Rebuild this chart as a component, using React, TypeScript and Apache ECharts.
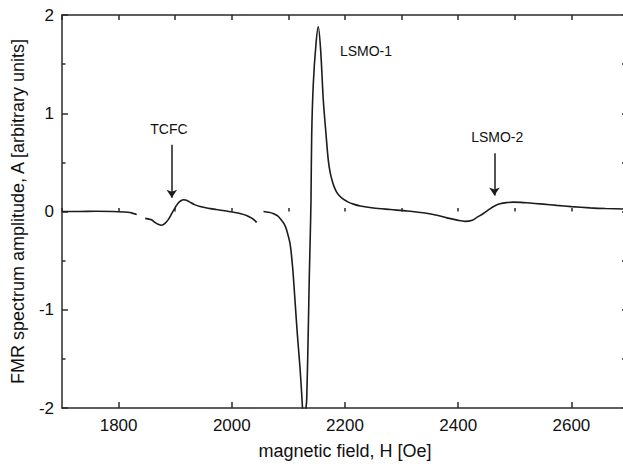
import React, { useEffect, useRef } from "react";
import * as echarts from "echarts";

// Segment 1 (low field baseline)
const H1 = [1700, 1730, 1760, 1790, 1810, 1820, 1826, 1832];
const A1 = [0, 0, 0.002, 0, -0.005, -0.01, -0.02, -0.03];

// Segment 2 (TCFC line)
const H2 = [1847, 1858, 1864, 1870, 1876, 1882, 1888, 1894, 1900, 1905, 1910, 1915, 1920, 1926, 1934, 1944, 1958, 1973, 1988, 2003, 2016, 2026, 2036, 2044];
const A2 = [-0.07, -0.085, -0.11, -0.13, -0.14, -0.12, -0.08, -0.02, 0.04, 0.085, 0.11, 0.12, 0.115, 0.095, 0.07, 0.05, 0.033, 0.02, 0.007, -0.007, -0.022, -0.04, -0.07, -0.11];

// Segment 3 (LSMO-1 and LSMO-2 lines)
const H3 = [2056, 2065, 2073, 2081, 2088, 2093, 2097, 2103, 2107.5, 2111.7, 2115.8, 2120.5, 2123.5, 2125.5, 2128, 2130.5, 2132.3, 2135.2, 2136.9, 2138.7, 2139.9, 2141.2, 2144, 2148.8, 2152.8, 2157, 2161.7, 2166.4, 2170.5, 2174, 2178, 2182, 2186, 2191, 2197, 2205, 2215, 2227, 2250, 2280, 2310, 2338, 2360, 2380, 2400, 2412, 2425, 2433, 2445, 2456, 2465, 2474, 2485, 2497, 2510, 2521, 2550, 2574, 2600, 2633, 2660, 2700];
const A3 = [0.0, -0.008, -0.02, -0.045, -0.09, -0.13, -0.19, -0.33, -0.57, -0.91, -1.25, -1.59, -1.86, -2.05, -2.2, -2.03, -1.92, -1.18, -0.67, -0.23, 0.11, 0.79, 1.3, 1.71, 1.88, 1.64, 1.13, 0.79, 0.52, 0.39, 0.3, 0.235, 0.19, 0.155, 0.125, 0.098, 0.075, 0.056, 0.036, 0.02, 0.005, -0.013, -0.035, -0.065, -0.09, -0.1, -0.088, -0.06, -0.018, 0.027, 0.058, 0.078, 0.09, 0.095, 0.093, 0.089, 0.075, 0.062, 0.05, 0.037, 0.03, 0.025];

const X_LABEL_TICKS = [1800, 2000, 2200, 2400, 2600];

// Annotations: [H, A, text]
const LABELS: [number, number, string][] = [
  [1889, 0.84, "TCFC"],
  [2237, 1.63, "LSMO-1"],
  [2469, 0.757, "LSMO-2"],
];
// Arrows: [H, A_start, A_end]
const ARROWS: [number, number, number][] = [
  [1894, 0.68, 0.14],
  [2464, 0.594, 0.163],
];

const FONT = "'Liberation Sans', Arial, Helvetica, sans-serif";
const INK = "#1c1c1c";
const AXIS = "#2a2a2a";

const zip = (xs: number[], ys: number[]) => xs.map((x, i) => [x, ys[i]]);

export default function App() {
  const ref = useRef<HTMLDivElement>(null);
  useEffect(() => {
    if (!ref.current) return;
    const chart = echarts.init(ref.current, null, { renderer: "svg" });
    const lineStyle = { color: INK, width: 1.6 };
    const baseSeries = (data: number[][]) => ({
      type: "line",
      data,
      symbol: "none",
      showSymbol: false,
      smooth: 0.3,
      lineStyle,
      clip: true,
      xAxisIndex: 0,
      yAxisIndex: 0,
    });
    chart.setOption({
      animation: false,
      backgroundColor: "#fff",
      grid: { left: 62, right: -5, top: 15, bottom: 58, outerBoundsMode: "none", containLabel: false },
      xAxis: [
        {
          type: "value",
          position: "bottom",
          min: 1700,
          max: 2700,
          name: "magnetic field, H [Oe]",
          nameLocation: "middle",
          nameGap: 34,
          nameTextStyle: { fontFamily: FONT, fontSize: 18, color: "#111" },
          axisLine: { show: true, onZero: false, lineStyle: { color: AXIS, width: 1.5 } },
          axisTick: { show: true, inside: true, length: 6, customValues: X_LABEL_TICKS, lineStyle: { color: AXIS, width: 1.5 } },
          axisLabel: {
            show: true,
            customValues: X_LABEL_TICKS,
            margin: 9,
            fontFamily: FONT,
            fontSize: 17,
            color: "#111",
            formatter: (v: number) => String(v),
          },
          splitLine: { show: false },
        },
        {
          type: "value",
          position: "bottom",
          min: 1700,
          max: 2700,
          interval: 100,
          axisLine: { show: false },
          axisTick: { show: true, inside: true, length: 3.5, lineStyle: { color: AXIS, width: 1.5 } },
          axisLabel: { show: false },
          splitLine: { show: false },
        },
        {
          type: "value",
          position: "top",
          min: 1700,
          max: 2700,
          interval: 100,
          axisLine: { show: true, onZero: false, lineStyle: { color: AXIS, width: 1.5 } },
          axisTick: { show: true, inside: true, length: 5, lineStyle: { color: AXIS, width: 1.5 } },
          axisLabel: { show: false },
          splitLine: { show: false },
        },
      ],
      yAxis: [
        {
          type: "value",
          position: "left",
          min: -2,
          max: 2,
          interval: 1,
          name: "FMR spectrum amplitude, A [arbitrary units]",
          nameLocation: "middle",
          nameGap: 35,
          nameTextStyle: { fontFamily: FONT, fontSize: 18, color: "#111" },
          axisLine: { show: true, onZero: false, lineStyle: { color: AXIS, width: 1.5 } },
          axisTick: { show: true, inside: true, length: 6, lineStyle: { color: AXIS, width: 1.5 } },
          minorTick: { show: true, splitNumber: 2, length: 3.5, lineStyle: { color: AXIS, width: 1.5 } },
          axisLabel: { show: true, margin: 8, fontFamily: FONT, fontSize: 17, color: "#111" },
          splitLine: { show: false },
          minorSplitLine: { show: false },
        },
        {
          type: "value",
          position: "right",
          min: -2,
          max: 2,
          interval: 1,
          axisLine: { show: true, onZero: false, lineStyle: { color: AXIS, width: 1.5 } },
          axisTick: { show: true, inside: true, length: 6, lineStyle: { color: AXIS, width: 1.5 } },
          minorTick: { show: true, splitNumber: 2, length: 6, lineStyle: { color: AXIS, width: 1.5 } },
          axisLabel: { show: false },
          splitLine: { show: false },
        },
      ],
      series: [
        baseSeries(zip(H1, A1)),
        baseSeries(zip(H2, A2)),
        {
          ...baseSeries(zip(H3, A3)),
          markLine: {
            silent: true,
            symbol: ["none", "arrow"],
            symbolSize: 8,
            label: { show: false },
            lineStyle: { color: INK, width: 1.5, type: "solid" },
            data: ARROWS.map(([h, a0, a1]) => [{ coord: [h, a0] }, { coord: [h, a1] }]),
          },
          markPoint: {
            silent: true,
            symbol: "rect",
            symbolSize: 1,
            itemStyle: { color: "transparent" },
            label: {
              show: true,
              position: "inside",
              formatter: "{b}",
              fontFamily: FONT,
              fontSize: 14,
              color: "#111",
            },
            data: LABELS.map(([h, a, t]) => ({ name: t, coord: [h, a] })),
          },
        },
      ],
    });
    return () => chart.dispose();
  }, []);
  return <div ref={ref} style={{ width: 623, height: 466, position: "absolute", left: 0, top: 0 }} />;
}
